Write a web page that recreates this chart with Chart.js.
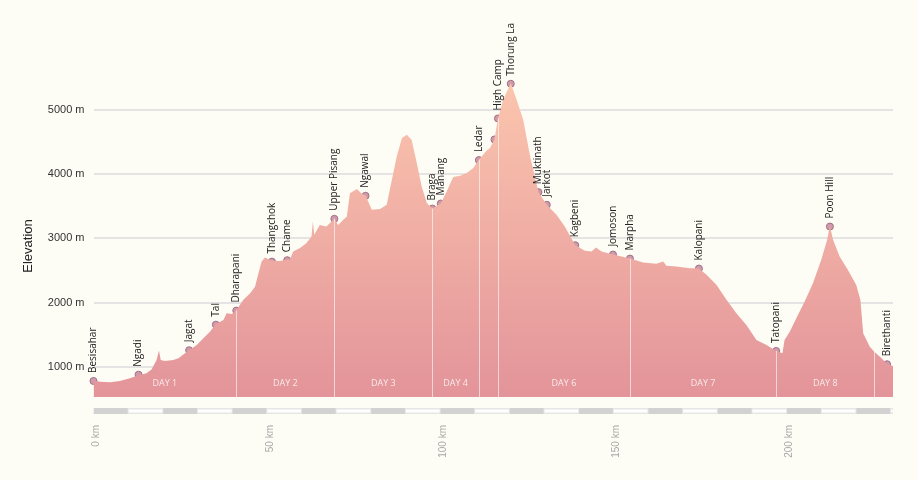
<!DOCTYPE html>
<html>
<head>
<meta charset="utf-8">
<script src="https://cdn.jsdelivr.net/npm/chart.js"></script>
<style>
  html, body { margin: 0; padding: 0; background: #fefdf5; }
  #wrap { width: 918px; height: 480px; position: relative; }
</style>
</head>
<body>
<div id="wrap"><canvas id="profile"></canvas></div>
<script>
// trail profile: distance (km) and elevation (m)
const trackKm = [0, 1.9, 4.8, 7.6, 10.5, 13.0, 15.3, 16.8, 18.2, 18.9, 19.4, 20.6, 23.0, 24.5, 26.4, 27.6,
  29.8, 31.7, 33.6, 35.3, 37.5, 38.4, 39.9, 41.2, 43.2, 45.2, 46.6, 47.6, 48.5, 49.5, 51.5, 53.8, 55.9,
  56.7, 57.6, 59.5, 61.4, 62.9, 63.3, 63.7, 65.3, 67.2, 69.5, 70.6, 72.1, 73.1, 74.0, 76.0, 77.4, 78.5,
  80.3, 82.7, 84.6, 86.1, 87.5, 89.0, 90.4, 91.8, 93.3, 94.7, 96.2, 97.8, 100.2, 101.9, 103.8, 105.8,
  107.7, 109.6, 111.2, 113.4, 114.4, 115.7, 116.7, 118.2, 120.4, 122.1, 124.0, 126.0, 128.4, 130.8,
  133.6, 136.0, 139.0, 141.8, 143.7, 145.0, 146.6, 149.9, 154.8, 158.6, 162.4, 164.4, 165.3, 168.2,
  172.1, 174.7, 176.9, 179.8, 182.7, 185.5, 188.4, 191.3, 194.2, 197.0, 198.8, 199.4, 200.9, 202.8,
  205.2, 207.6, 210.0, 211.7, 212.5, 213.4, 215.3, 217.7, 220.1, 221.3, 222.1, 224.0, 225.3, 227.4,
  229.0, 230.7];
const trackElev = [790, 771, 761, 782, 824, 870, 901, 964, 1109, 1254, 1109, 1093, 1109, 1135, 1213, 1260,
  1342, 1446, 1549, 1669, 1731, 1835, 1824, 1880, 2042, 2146, 2249, 2458, 2638, 2700, 2650, 2649, 2670,
  2665, 2794, 2847, 2925, 3027, 3261, 3054, 3209, 3183, 3303, 3209, 3287, 3339, 3702, 3765, 3692, 3665,
  3443, 3454, 3521, 3910, 4272, 4558, 4610, 4532, 4169, 3806, 3547, 3463, 3541, 3728, 3952, 3972,
  4014, 4092, 4221, 4361, 4403, 4537, 4864, 5155, 5410, 5155, 4843, 4272, 3718, 3521,
  3365, 3183, 2893, 2805, 2794, 2856, 2794, 2747, 2685, 2623, 2603, 2638, 2572, 2561,
  2536, 2530, 2432, 2276, 2042, 1835, 1653, 1420, 1342, 1249, 1213, 1420, 1549, 1758,
  2016, 2302, 2665, 2976, 3190, 2976, 2716, 2509, 2276, 2042, 1524, 1316, 1238, 1135,
  1042, 1016];

// villages / passes along the way
const stopNames = ['Besisahar', 'Ngadi', 'Jagat', 'Tal', 'Dharapani', 'Thangchok', 'Chame', 'Upper Pisang',
  'Ngawal', 'Braga', 'Manang', 'Ledar', '', 'High Camp', 'Thorung La', 'Muktinath', 'Jarkot', 'Kagbeni',
  'Jomoson', 'Marpha', 'Kalopani', 'Tatopani', 'Poon Hill', 'Birethanti'];
const stopKm = [0, 13.0, 27.6, 35.3, 41.2, 51.5, 55.9, 69.5, 78.5, 97.8, 100.2, 111.2, 115.7, 116.7,
  120.4, 128.4, 130.8, 139.0, 149.9, 154.8, 174.7, 197.0, 212.5, 229.0];
const stopElev = [782, 880, 1260, 1658, 1876, 2638, 2660, 3303, 3661, 3463, 3541, 4216, 4537, 4864,
  5403, 3718, 3521, 2893, 2747, 2685, 2530, 1249, 3183, 1042];

// where each day ends (km)
const dayEndsKm = [41.2, 69.5, 97.8, 111.2, 116.7, 154.8, 197.0, 225.3];
const dayNames = ['DAY 1', 'DAY 2', 'DAY 3', 'DAY 4', 'DAY 5', 'DAY 6', 'DAY 7', 'DAY 8', 'DAY 9'];

const yTicks = [1000, 2000, 3000, 4000, 5000];
const xTicks = [0, 50, 100, 150, 200];

function elevAt(km) {
  for (let i = 1; i < trackKm.length; i++) {
    if (trackKm[i] >= km) {
      const t = (km - trackKm[i - 1]) / (trackKm[i] - trackKm[i - 1]);
      return trackElev[i - 1] + t * (trackElev[i] - trackElev[i - 1]);
    }
  }
  return trackElev[trackElev.length - 1];
}

// day separators + day names, drawn on top of the area
const dayPlugin = {
  id: 'days',
  afterDatasetDraw(chart, args) {
    if (args.index !== 0) return;
    const {ctx, chartArea, scales: {x, y}} = chart;
    ctx.save();
    ctx.strokeStyle = 'rgba(255,255,255,0.6)';
    ctx.lineWidth = 1;
    dayEndsKm.forEach(km => {
      const px = Math.round(x.getPixelForValue(km)) + 0.5;
      ctx.beginPath();
      ctx.moveTo(px, y.getPixelForValue(elevAt(km)));
      ctx.lineTo(px, chartArea.bottom);
      ctx.stroke();
    });
    const bounds = [0].concat(dayEndsKm, [trackKm[trackKm.length - 1]]);
    ctx.fillStyle = 'rgba(255,255,255,0.8)';
    ctx.font = '9px "Open Sans", sans-serif';
    ctx.textAlign = 'center';
    ctx.textBaseline = 'middle';
    dayNames.forEach((name, i) => {
      const a = x.getPixelForValue(bounds[i]);
      const b = x.getPixelForValue(bounds[i + 1]);
      if (b - a < 35) return;
      ctx.fillText(name, (a + b) / 2, chartArea.bottom - 14);
    });
    ctx.restore();
  }
};

// rotated names above the stops
const stopLabels = {
  id: 'stopLabels',
  afterDatasetsDraw(chart) {
    const {ctx} = chart;
    const meta = chart.getDatasetMeta(1);
    ctx.save();
    ctx.fillStyle = '#222';
    ctx.font = '10px "Open Sans", sans-serif';
    ctx.textAlign = 'left';
    ctx.textBaseline = 'middle';
    meta.data.forEach((pt, i) => {
      if (!stopNames[i]) return;
      ctx.save();
      ctx.translate(pt.x, pt.y - 8);
      ctx.rotate(-Math.PI / 2);
      ctx.fillText(stopNames[i], 0, 0);
      ctx.restore();
    });
    ctx.restore();
  }
};

// distance bar under the plot + y title
const scaleBar = {
  id: 'scaleBar',
  afterDraw(chart) {
    const {ctx, chartArea, scales: {x}} = chart;
    const top = chartArea.bottom + 11;
    const h = 6;
    const end = trackKm[trackKm.length - 1];
    ctx.save();
    ctx.fillStyle = '#e6e6e6';
    ctx.fillRect(chartArea.left, top, chartArea.right - chartArea.left, h);
    for (let k = 0, n = 0; k < end; k += 10, n++) {
      const a = x.getPixelForValue(k);
      const b = x.getPixelForValue(Math.min(k + 10, end));
      if (n % 2 === 0) {
        ctx.fillStyle = '#d2d2d2';
        ctx.fillRect(a + 0.5, top, b - a - 1, h);
      } else {
        ctx.fillStyle = '#ffffff';
        ctx.fillRect(a + 0.5, top + 1.5, b - a - 1, h - 3);
      }
    }
    ctx.fillStyle = '#222';
    ctx.font = '13px "Liberation Sans", Arial, sans-serif';
    ctx.textAlign = 'center';
    ctx.textBaseline = 'middle';
    ctx.translate(28, 246);
    ctx.rotate(-Math.PI / 2);
    ctx.fillText('Elevation', 0, 0);
    ctx.restore();
  }
};

const ctx = document.getElementById('profile').getContext('2d');

new Chart(ctx, {
  type: 'line',
  data: {
    datasets: [{
      label: 'Elevation',
      data: trackKm.map((k, i) => ({x: k, y: trackElev[i]})),
      fill: 'start',
      backgroundColor: (c) => {
        const area = c.chart.chartArea;
        if (!area) return '#eeaaa5';
        const g = c.chart.ctx.createLinearGradient(0, area.top, 0, area.bottom);
        g.addColorStop(0, '#fecbb0');
        g.addColorStop(1, '#e3949a');
        return g;
      },
      borderWidth: 0,
      pointRadius: 0,
      tension: 0
    }, {
      label: 'Stops',
      data: stopKm.map((k, i) => ({x: k, y: stopElev[i]})),
      showLine: false,
      pointRadius: 3.5,
      pointBackgroundColor: '#cf9aab',
      pointBorderColor: '#a27082',
      pointBorderWidth: 1,
      clip: false
    }]
  },
  options: {
    responsive: true,
    maintainAspectRatio: false,
    animation: false,
    layout: { padding: { top: 46, right: 25, left: 0, bottom: 0 } },
    plugins: {
      legend: { display: false },
      tooltip: { enabled: false }
    },
    scales: {
      x: {
        type: 'linear',
        min: 0,
        max: trackKm[trackKm.length - 1],
        afterBuildTicks: s => { s.ticks = xTicks.map(v => ({value: v})); },
        afterFit: s => { s.height = 83; },
        border: { display: false },
        grid: { display: false, drawTicks: false },
        ticks: {
          minRotation: 90,
          maxRotation: 90,
          padding: 28,
          labelOffset: 3,
          color: '#a8a8a8',
          font: { size: 10, family: '"Liberation Sans", Arial, sans-serif' },
          callback: v => v + ' km'
        }
      },
      y: {
        min: 533,
        max: 5990,
        afterBuildTicks: s => { s.ticks = yTicks.map(v => ({value: v})); },
        afterFit: s => { s.width = 93.5; },
        border: { display: false },
        grid: { color: '#e4e4e4', lineWidth: 2, drawTicks: false },
        ticks: {
          padding: 9,
          color: '#333',
          font: { size: 11, family: '"Liberation Sans", Arial, sans-serif' },
          callback: v => v + ' m'
        }
      }
    }
  },
  plugins: [dayPlugin, stopLabels, scaleBar]
});
</script>
</body>
</html>
